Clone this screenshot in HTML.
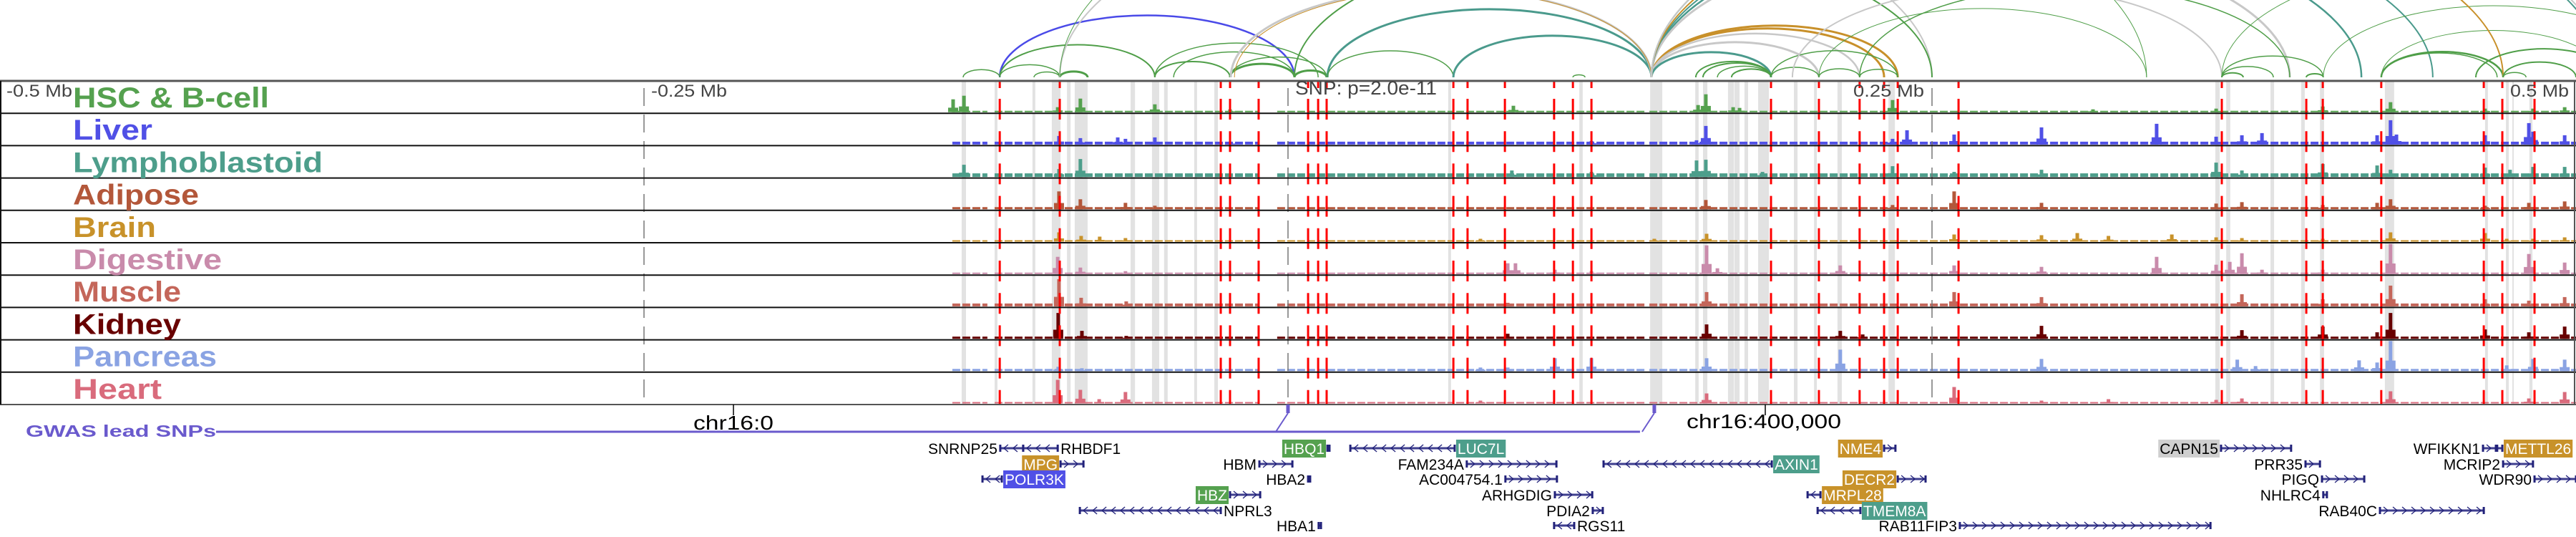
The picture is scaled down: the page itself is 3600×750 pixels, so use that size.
<!DOCTYPE html>
<html><head><meta charset="utf-8">
<style>
html,body{margin:0;padding:0;background:#fff;}
svg{display:block;font-family:"Liberation Sans",sans-serif;}
</style></head>
<body>
<svg id="chart" width="3600" height="750" viewBox="0 0 3600 750" xmlns="http://www.w3.org/2000/svg">
  <g id="arcs"></g>
  <g id="bands"></g>
  <g id="signals"></g>
  <g id="reds"></g>
  <g id="frame"></g>
  <g id="labels" font-weight="bold" font-size="40"></g>
  <g font-size="24" fill="#444">
    <text x="9" y="135" textLength="92" lengthAdjust="spacingAndGlyphs">-0.5 Mb</text>
    <text x="910" y="135" textLength="106" lengthAdjust="spacingAndGlyphs">-0.25 Mb</text>
    <text x="1810" y="132" font-size="27" textLength="198" lengthAdjust="spacingAndGlyphs">SNP: p=2.0e-11</text>
    <text x="2590" y="135" textLength="99" lengthAdjust="spacingAndGlyphs">0.25 Mb</text>
    <text x="3508" y="135" textLength="82" lengthAdjust="spacingAndGlyphs">0.5 Mb</text>
  </g>
  <g>
    <line x1="1025" y1="565" x2="1025" y2="580" stroke="#000" stroke-width="1.5"/>
    <text x="1025" y="600" font-size="28" text-anchor="middle" textLength="112" lengthAdjust="spacingAndGlyphs">chr16:0</text>
    <line x1="2467" y1="565" x2="2467" y2="580" stroke="#000" stroke-width="1.5"/>
    <text x="2465" y="598" font-size="28" text-anchor="middle" textLength="216" lengthAdjust="spacingAndGlyphs">chr16:400,000</text>
  </g>
  <g id="gwas">
    <text x="36" y="610" font-size="23" font-weight="bold" fill="#6a5acd" textLength="266" lengthAdjust="spacingAndGlyphs">GWAS lead SNPs</text>
  </g>
  <g id="genes" font-size="21"></g>
</svg>
<script>
const NS = "http://www.w3.org/2000/svg";
const X = kb => (kb + 500) * 3.6;
const TOP = 113, TH = 45.2, ARC_BASE = 108;

// ---------- data ----------
const trackNames = ["HSC & B-cell","Liver","Lymphoblastoid","Adipose","Brain","Digestive","Muscle","Kidney","Pancreas","Heart"];
const trackColors = ["#55a14f","#5050e6","#4d9e8b","#b3573a","#c8922a","#c98bab","#c4665a","#680000","#8aa3e3","#d96b7c"];
const labelWidths = [274,111,349,176,116,208,151,151,201,124];
const baseLevels = [2,4,5,3,2,2,4,3,3,2];
const coverage = [[-130.3,-116.7],[-113.9,-11.1],[-4.2,63.9],[65.3,138.9],[140.3,500]];

const peaksHSC = [[-130,18],[-125.8,23],[-89.4,7],[-80.6,19],[-51.7,11],[-22.5,4],[87.5,9],[159.2,10],[162.2,25],[172.8,7],[175.3,6],[234.7,17],[312.5,4],[360.3,5],[401.7,8],[428,14],[464.7,5],[483.3,5],[495.6,7]];
const peaksLiver = [[-88.9,12],[-80.6,9],[-66.1,10],[-63.1,8],[-51.7,10],[-22.5,4],[117.8,5],[158.6,6],[162.2,26],[234.7,8],[240.3,20],[258.6,14],[292.5,24],[337.2,29],[360.3,11],[370.3,13],[378.1,16],[422.8,13],[428,34],[430.3,14],[464.7,13],[481.7,30],[483.3,18],[495.6,13]];
const peaksLympho = [[-125.8,17],[-88.9,11],[-80.6,25],[86.9,9],[117.8,7],[158.6,23],[162.2,24],[184.2,7],[234.7,15],[258.6,7],[292.5,10],[360.3,20],[370.3,9],[401.7,18],[422.8,16],[428,10],[464.7,13],[474.4,10],[483.3,14],[495.6,14]];
const peaksAdipose = [[-88.9,25],[-80.6,14],[-63.1,9],[-51.7,5],[162.2,13],[234.7,6],[258.6,25],[292.5,9],[360.3,8],[370.3,10],[401.7,6],[422.8,9],[428,14],[464.7,5],[481.7,9],[495.6,11]];
const peaksBrain = [[-88.9,13],[-80.3,8],[-73.1,7],[-63.1,5],[74.7,4],[142.2,4],[162.5,11],[258.6,10],[292.5,9],[306.4,12],[318.5,8],[343.1,10],[360.3,6],[370.3,5],[401.7,4],[428,13],[464.7,12],[473.1,4],[483.3,4],[495.6,6]];
const peaksDigestive = [[-89.4,24],[-80.6,9],[-63.1,4],[85.3,15],[88.3,15],[103.6,6],[117.8,4],[162.5,40],[166.7,8],[214.4,12],[258.6,12],[292.5,10],[337.2,24],[360.3,13],[365.6,17],[370.3,29],[378.1,6],[401.7,6],[428,42],[481.7,28],[495.6,16]];
const peaksMuscle = [[-88.9,38],[-80.3,12],[-62.8,7],[85.3,5],[162.5,20],[258.6,20],[292.5,13],[370.3,17],[401.7,10],[428,29],[464.7,10],[481.7,8],[495.6,13]];
const peaksKidney = [[-89.2,36],[-80,11],[-62.8,4],[85.3,7],[162.5,20],[214.4,11],[223.1,6],[292.5,18],[370.3,12],[401.7,17],[422.8,9],[428,36],[464.7,13],[481.7,9],[495.6,17]];
const peaksPancreas = [[-89.2,6],[-80,4],[74.7,5],[85.3,5],[103.6,18],[117.8,18],[162.5,18],[214.4,30],[292.5,17],[368.5,16],[375.6,7],[415.8,15],[422.8,12],[428,43],[473.1,8],[483.3,17],[495.6,16]];
const peaksHeart = [[-89.4,33],[-80.6,19],[-73.3,6],[-63.1,16],[74.7,4],[162.5,14],[258.6,23],[292.5,4],[318.5,6],[360.3,5],[370.3,7],[428,17],[481.7,7],[495.6,16]];
const trackPeaks = [peaksHSC,peaksLiver,peaksLympho,peaksAdipose,peaksBrain,peaksDigestive,peaksMuscle,peaksKidney,peaksPancreas,peaksHeart];

const snpLines = [-111.9,-88.6,-26.1,-22.5,-11.4,7.8,11.7,15.0,64.2,69.7,84.2,103.3,110.6,117.8,187.5,206.1,221.9,231.4,236.7,260.3,362.5,395.3,401.7,424.4,464.2,471.4,483.9];
const bandStarts = [-126.7,-113.9,-99.2,-91.7,-85.8,-82.8,-61.1,-52.8,-48.1,-36.4,-28.6,62.2,113.1,140.6,158.1,161.1,170.8,173.3,177.2,182.5,196.4,204.2,213.3,233.1,360.0,364.2,381.4,393.3,400.6,425.8,464.7,472.8,475.3,481.9];
const bandEnds   = [-125.0,-112.8,-98.1,-88.3,-84.4,-77.8,-59.4,-50.0,-46.7,-35.3,-27.2,63.3,114.4,145.3,159.4,162.8,173.1,175.3,178.6,186.7,197.8,205.3,215.0,235.6,361.7,365.8,382.8,394.7,402.2,429.4,465.8,473.9,475.8,483.1];
const tickKb = [-250,0,250];

const arcStart = [-126.1,-111.9,-111.9,-111.9,-98.6,-88.6,-88.6,-88.6,-51.7,-51.7,-44.4,-22.5,-22.5,2.5,2.5,15.3,15.3,64.2,110.6,-22.2,-20.8,141.1,141.1,141.1,141.1,141.1,141.1,141.1,141.1,158.3,161.1,172.2,166.7,187.5,206.1,221.9,187.5,206.1,221.9,195.8,362.5,362.5,362.5,362.5,395.3,401.9,424.4,424.4,424.4,141.1,141.1,141.1,471.7,471.7,461.1];
const arcEnd   = [-111.9,2.5,-51.7,-88.6,-88.6,-77.8,250,333.3,-22.5,11.7,2.5,2.5,15.0,15.0,250,141.1,64.2,141.1,115.3,141.1,141.1,231.4,236.7,206.1,221.9,187.5,416.7,388.9,444.4,187.5,187.5,187.5,187.5,206.1,221.9,236.7,236.7,333.3,388.9,362.5,382.5,370.8,401.9,583.3,401.9,534.2,471.7,469.4,511.1,471.7,511.1,512.5,480.6,500,513.9];
const arcKind  = ["g","b","g","g","g","g","x","g","g","g","g","g","g","g","g","t","g","t","g","x","o","o","o","x","x","t","t","x","t","g","g","g","g","g","g","g","g","g","g","x","g","g","g","g","g","g","g","g","g","o","t","x","g","g","g"];
const arcWidth = [1.5,2.5,2,1.5,1.5,3,2,1,2,1.5,1.5,3,1.5,3,2,3,1.5,3,1.5,3,1,3,3,3,2.5,3,2.5,3,2,2,2,2,1.5,1.5,1.5,1.5,1.5,1,1.5,2,1.5,2,1.5,1,2,1,2.5,1.5,1,2,2,2,1.5,2,2];
const arcColors = {g:"#4f9e48", b:"#4a4ae8", t:"#4a9a8c", x:"#c8c8c8", o:"#c8902a"};

const gwasSnps = [0, 142.2];

const geneNames  = ["SNRNP25","RHBDF1","HBQ1","LUC7L","NME4","CAPN15","WFIKKN1","METTL26","MPG","HBM","FAM234A","AXIN1","PRR35","MCRIP2","POLR3K","HBA2","AC004754.1","DECR2","PIGQ","WDR90","HBZ","ARHGDIG","MRPL28","NHLRC4","NPRL3","PDIA2","TMEM8A","RAB40C","HBA1","RGS11","RAB11FIP3"];
const geneStart  = [-111.7,-102.8,15.3,24.2,231.4,362.2,463.9,469.4,-88.3,-11.1,69.4,122.5,395.0,471.7,-118.6,7.8,84.4,236.7,401.4,483.9,-22.5,103.6,201.7,401.9,-80.8,118.3,205.6,423.9,11.9,103.3,260.8];
const geneEnd    = [-102.8,-89.4,16.1,64.7,235.8,389.4,468.9,471.4,-79.4,1.7,104.2,187.8,400.6,483.3,-111.1,8.6,104.4,247.5,417.8,500,-10.8,118.1,206.7,403.3,-26.1,122.2,222.2,464.2,12.8,111.1,358.1];
const geneStrand = ["-","-","+","-","+","+","+","+","+","+","+","-","+","+","-","+","+","+","+","+","+","+","-","+","-","+","-","+","+","-","+"];
const geneRow    = [0,0,0,0,0,0,0,0,1,1,1,1,1,1,2,2,2,2,2,2,3,3,3,3,4,4,4,4,5,5,5];
const geneSide   = ["L","R","L","R","L","L","L","R","L","L","L","R","L","L","R","L","L","L","L","L","L","L","R","L","R","L","R","L","L","R","L"];
const geneBox    = ["","","#55a14f","#4d9e8b","#c8922a","#cfcfcf","","#c8922a","#c8922a","","","#4d9e8b","","","#5050e6","","","#c8922a","","","#55a14f","","#c8922a","","","","#4d9e8b","","","",""];
const rowY = [626,648,669,691,713,734];

// ---------- helpers ----------
function mk(tag, attrs, parent){
  const el = document.createElementNS(NS, tag);
  for (const k in attrs) el.setAttribute(k, attrs[k]);
  parent.appendChild(el);
  return el;
}
const g = id => document.getElementById(id);

// arcs
for (let i = 0; i < arcStart.length; i++){
  const x1 = X(arcStart[i]), x2 = X(arcEnd[i]);
  const r = (x2 - x1) / 2, ry = 0.42 * r;
  const p = mk("path", {d:`M${x1},${ARC_BASE} A${r},${ry} 0 0 1 ${x2},${ARC_BASE}`, fill:"none", stroke:arcColors[arcKind[i]], "stroke-width":arcWidth[i]}, g("arcs"));
  
  
}

// bands
for (let i = 0; i < bandStarts.length; i++){
  const r = mk("rect", {x:X(bandStarts[i]), y:TOP, width:Math.max(2, X(bandEnds[i]) - X(bandStarts[i])), height:TH*10, fill:"#e2e2e2"}, g("bands"));
  
  
}

// signals
for (let t = 0; t < trackNames.length; t++){
  const base = TOP + TH * (t + 1) - 1.5;
  const grp = mk("g", {fill:trackColors[t]}, g("signals"));
  
  
  for (const seg of coverage){
    const ln = mk("line", {x1:X(seg[0]), x2:X(seg[1]), y1:base - baseLevels[t]/2, y2:base - baseLevels[t]/2, stroke:trackColors[t], "stroke-width":baseLevels[t], "stroke-dasharray":"11 3"}, grp);
    
    
  }
  for (const pk of trackPeaks[t]){
    const h = Math.min(42, pk[1]);
    const sh = mk("rect", {x:X(pk[0]) - 7, y:base - h*0.35, width:14, height:h*0.35}, grp);
    
    
    const b = mk("rect", {x:X(pk[0]) - 2.5, y:base - h, width:5, height:h}, grp);
    
    
  }
}

// red SNP lines
for (const s of snpLines){
  const a = mk("line", {x1:X(s), x2:X(s), y1:TOP, y2:TOP+10, stroke:"#f00", "stroke-width":3}, g("reds"));
  
  
  const b = mk("line", {x1:X(s), x2:X(s), y1:TOP+25, y2:TOP+TH*10, stroke:"#f00", "stroke-width":3, "stroke-dasharray":"29 16.2"}, g("reds"));
  
  
}

// tick dashed lines
for (const tk of tickKb){
  const l = mk("line", {x1:X(tk), x2:X(tk), y1:TOP+10, y2:TOP+TH*10, stroke:"#777", "stroke-width":1.5, "stroke-dasharray":"25 12"}, g("frame"));
  
  
}

// frame
for (let i = 0; i <= 10; i++){
  const y = TOP + TH*i;
  const l = mk("line", {x1:0, x2:3600, y1:y, y2:y, stroke:(i===0||i===10)?"#555":"#111", "stroke-width":(i===0)?3:2}, g("frame"));
  
  
}
{
  const l = mk("line", {x1:1, x2:1, y1:TOP, y2:TOP+TH*10, stroke:"#111", "stroke-width":2}, g("frame"));
  
  
  const r = mk("line", {x1:3598, x2:3598, y1:TOP, y2:TOP+TH*10, stroke:"#555", "stroke-width":2}, g("frame"));
  
  
}

// track labels
for (let t = 0; t < trackNames.length; t++){
  const tx = mk("text", {x:102, y:TOP + TH*t + 37, fill:trackColors[t], textLength:labelWidths[t], lengthAdjust:"spacingAndGlyphs"}, g("labels"));
  tx.textContent = trackNames[t];
  
  
}

// GWAS
{
  const gw = g("gwas");
  const lineEnd = X(gwasSnps[gwasSnps.length-1]) - 20;
  const l = mk("line", {x1:302, x2:lineEnd, y1:603, y2:603, stroke:"#6a5acd", "stroke-width":3}, gw);
  
  
  for (let i = 0; i < gwasSnps.length; i++){
    const sx = X(gwasSnps[i]);
    const d = mk("line", {x1:sx-17, y1:603, x2:sx, y2:577, stroke:"#6a5acd", "stroke-width":2}, gw);
    
    
    const m = mk("rect", {x:sx-2.5, y:565, width:5, height:12, fill:"#6a5acd"}, gw);
    
    
  }
}

// genes
for (let i = 0; i < geneNames.length; i++){
  const gr = mk("g", {}, g("genes"));
  
  
  const y = rowY[geneRow[i]];
  const x1 = X(geneStart[i]), x2 = X(geneEnd[i]);
  const band = mk("line", {x1:x1, x2:x2, y1:y, y2:y, stroke:"#9a9ac8", "stroke-width":4}, gr);
  
  
  const ln = mk("line", {x1:x1, x2:x2, y1:y, y2:y, stroke:"#22227a", "stroke-width":1.5}, gr);
  
  
  const ends = mk("path", {d:`M${x1},${y-5}V${y+5}M${x2},${y-5}V${y+5}`, stroke:"#22227a", "stroke-width":3}, gr);
  
  
  for (let cx = x1 + 8; cx < x2 - 4; cx += 13){
    const dir = geneStrand[i] === "+" ? 1 : -1;
    const c = mk("path", {d:`M${cx-3*dir},${y-5}L${cx+3*dir},${y}L${cx-3*dir},${y+5}`, fill:"none", stroke:"#22227a", "stroke-width":1.3}, gr);
    
    
  }
  const left = geneSide[i] === "L";
  const tx = mk("text", {x: left ? x1 - 4 : x2 + 4, y: y + 8, "text-anchor": left ? "end" : "start", fill: (geneBox[i] && geneBox[i] !== "#cfcfcf") ? "#fff" : "#000"}, gr);
  tx.textContent = geneNames[i];
  
  
  if (geneBox[i]){
    let w = 12 * geneNames[i].length;
    try { w = tx.getComputedTextLength(); } catch(e) {}
    const bx = left ? x1 - 6 - w : x2 + 2;
    const r = document.createElementNS(NS, "rect");
    r.setAttribute("x", bx); r.setAttribute("y", y - 12);
    r.setAttribute("width", w + 4); r.setAttribute("height", 25);
    r.setAttribute("fill", geneBox[i]);
    
    
    gr.insertBefore(r, tx);
  }
}
</script>
</body></html>
